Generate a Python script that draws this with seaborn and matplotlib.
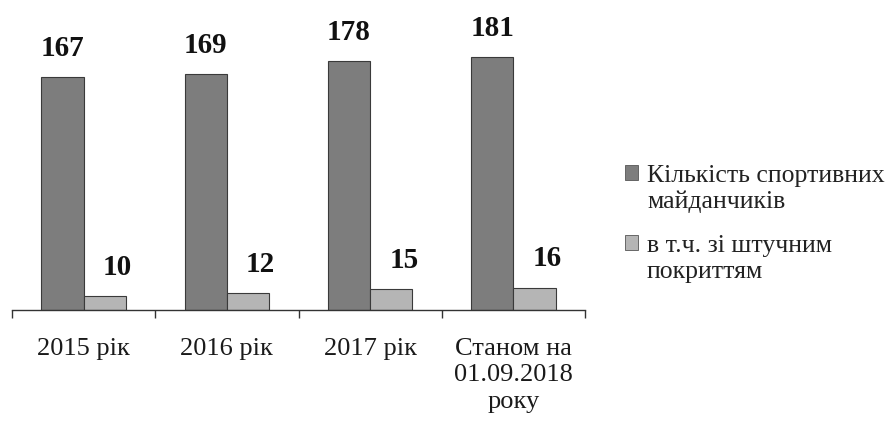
import matplotlib
matplotlib.use("Agg")
import matplotlib.pyplot as plt
import seaborn as sns
import pandas as pd

# Sports grounds by year
categories = ["2015 рік", "2016 рік", "2017 рік", "Станом на\n01.09.2018\nроку"]
series_names = ["Кількість спортивних\nмайданчиків", "в т.ч. зі штучним\nпокриттям"]
total_grounds = [167, 169, 178, 181]
artificial_surface = [10, 12, 15, 16]

df = pd.DataFrame({
    "category": categories * 2,
    "series": [series_names[0]] * 4 + [series_names[1]] * 4,
    "value": total_grounds + artificial_surface,
})

sns.set_theme(style="white")
plt.rcParams["font.family"] = ["Liberation Serif", "DejaVu Serif"]

fig = plt.figure(figsize=(8.95, 4.21), dpi=100)
ax = fig.add_axes([12 / 895, 111 / 421, 573 / 895, 310 / 421])

palette = ["#7d7d7d", "#b5b5b5"]
sns.barplot(data=df, x="category", y="value", hue="series", order=categories,
            hue_order=series_names, palette=palette, width=0.59, gap=0,
            saturation=1, edgecolor="#3a3a3a", linewidth=0.8, ax=ax, legend=True)

ax.set_xlim(-0.5, 3.5)
ax.set_ylim(0, 222)
ax.set_xlabel("")
ax.set_ylabel("")
ax.set_yticks([])

for side in ["left", "right", "top"]:
    ax.spines[side].set_visible(False)
ax.spines["bottom"].set_color("#333333")
ax.spines["bottom"].set_linewidth(1.0)

# category separators below the baseline
ax.set_xticks([-0.5, 0.5, 1.5, 2.5, 3.5], minor=True)
ax.tick_params(axis="x", which="minor", length=5.5, width=1.0, color="#333333",
               bottom=True, direction="out")
ax.tick_params(axis="x", which="major", length=0, pad=20, labelsize=19,
               labelcolor="#1a1a1a")
for lbl in ax.get_xticklabels():
    lbl.set_linespacing(1.26)
    lbl.set_verticalalignment("top")

# value labels
for i, container in enumerate(ax.containers):
    dx = 0 if i == 0 else 9
    for bar, val in zip(container, [total_grounds, artificial_surface][i]):
        ax.annotate(f"{val}", (bar.get_x() + bar.get_width() / 2, val),
                    xytext=(dx, 11), textcoords="offset points",
                    ha="center", va="bottom", fontsize=21, fontweight="bold",
                    color="#111111")

leg = ax.legend(loc="center left", bbox_to_anchor=(602 / 895, 197 / 421),
                bbox_transform=fig.transFigure, frameon=False, fontsize=18.5,
                handlelength=0.5, handleheight=0.5, handletextpad=0.35,
                labelspacing=0.85, labelcolor="#222222")
for lbl in leg.get_texts():
    lbl.set_linespacing(1.2)
# put each swatch beside the first line of its label
for row in leg._legend_handle_box.get_children()[0].get_children():
    row.align = "top"
for patch in leg.get_patches():
    patch.set_edgecolor("#555555")
    patch.set_linewidth(0.6)

fig.savefig("out.png", dpi=100, facecolor="white")
